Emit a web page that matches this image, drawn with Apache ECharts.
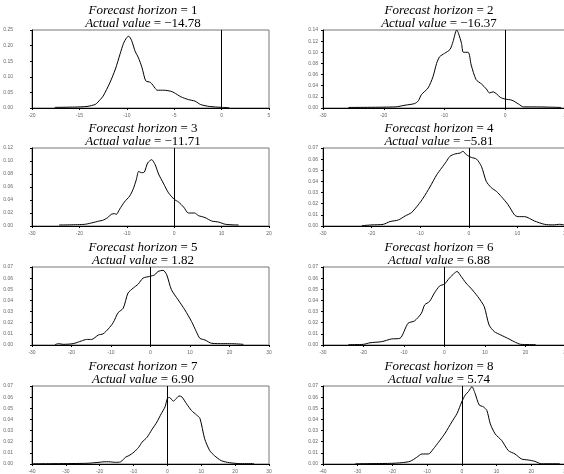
<!DOCTYPE html>
<html lang="en">
<head>
	<meta charset="UTF-8">
	<title>Forecast densities</title>
	<style>
	body, div {
		margin: 0;
		padding: 0;
	}
	#echart {
		width: 564px;
		height: 474px;
		background: #fff;
	}
	</style>
</head>
<body>
	<div id="echart"></div>

	<script src="https://cdn.jsdelivr.net/npm/echarts@6/dist/echarts.min.js"></script>

	<script>
// panel settings
var horizons = [1, 2, 3, 4, 5, 6, 7, 8];
var actualValues = ['\u221214.78', '\u221216.37', '\u221211.71', '\u22125.81', '1.82', '6.88', '6.90', '5.74'];
var xMins = [-20, -30, -30, -30, -30, -30, -40, -40];
var xMaxs = [5, 10, 20, 20, 30, 30, 30, 30];
var xSteps = [5, 10, 10, 10, 10, 10, 10, 10];
var yMaxs = [0.25, 0.14, 0.12, 0.07, 0.07, 0.07, 0.07, 0.07];
var ySteps = [0.05, 0.02, 0.02, 0.01, 0.01, 0.01, 0.01, 0.01];

// densities
var dens1 = [[-17.6,0.002],[-15.5,0.003],[-14.2,0.005],[-13.3,0.012],[-12.8,0.027],[-12.5,0.038],[-11.8,0.08],[-11.2,0.125],[-10.7,0.174],[-10.35,0.207],[-10.0,0.226],[-9.8,0.23],[-9.5,0.217],[-9.1,0.18],[-8.8,0.163],[-8.4,0.13],[-8.0,0.087],[-7.5,0.082],[-7.0,0.063],[-6.8,0.057],[-6.1,0.057],[-5.4,0.054],[-5.0,0.049],[-4.3,0.036],[-3.5,0.027],[-2.8,0.022],[-2.2,0.011],[-1.3,0.005],[0,0.002],[0.8,0.001]];
var dens2 = [[-25.8,0.001],[-18.1,0.002],[-16.5,0.005],[-14.9,0.008],[-14.3,0.013],[-13.8,0.024],[-12.7,0.036],[-11.9,0.056],[-11.3,0.08],[-10.8,0.092],[-10,0.098],[-9.1,0.105],[-8.6,0.119],[-8.0,0.14],[-7.7,0.134],[-7.2,0.116],[-6.9,0.1],[-6.1,0.1],[-5.6,0.077],[-4.8,0.051],[-3.9,0.043],[-3.1,0.034],[-2.6,0.027],[-2.0,0.029],[-1.4,0.025],[-0.8,0.019],[0,0.016],[1.1,0.014],[2.2,0.007],[3.0,0.002],[4.9,0.002],[9.2,0.001]];
var dens3 = [[-24.3,0.0015],[-19.0,0.0025],[-17.5,0.0046],[-15.8,0.0077],[-15.1,0.0087],[-14.0,0.013],[-13.3,0.018],[-12.6,0.019],[-12.2,0.018],[-11.5,0.026],[-10.5,0.037],[-9.4,0.046],[-8.7,0.056],[-8.0,0.071],[-7.5,0.084],[-6.9,0.082],[-6.3,0.083],[-5.6,0.097],[-4.75,0.102],[-4.0,0.094],[-3.3,0.08],[-2.3,0.066],[-1.2,0.051],[0,0.041],[0.9,0.037],[2.0,0.029],[3.0,0.02],[4.3,0.02],[5.1,0.016],[6.5,0.013],[7.9,0.0077],[9.4,0.006],[10.8,0.0026],[13.6,0.0015]];
var dens4 = [[-22,0.0003],[-19.9,0.001],[-17.6,0.0015],[-16.2,0.004],[-14.5,0.0054],[-13.1,0.009],[-11.8,0.012],[-10.4,0.019],[-9.4,0.025],[-8.0,0.035],[-6.6,0.046],[-5.6,0.052],[-4.6,0.058],[-3.9,0.0625],[-2.9,0.0646],[-1.8,0.0655],[-1.2,0.067],[-0.5,0.064],[0.5,0.0616],[1.6,0.06],[2.6,0.0535],[3.6,0.04],[4.6,0.0345],[5.7,0.031],[6.7,0.0264],[8.1,0.019],[9.4,0.01],[10.1,0.0084],[11.5,0.0084],[13.5,0.0045],[15.6,0.0015],[17.3,0.001],[18.7,0.0015],[19.6,0.001]];
var dens5 = [[-24.2,0.0003],[-23.3,0.0012],[-22.1,0.0006],[-19.6,0.0012],[-17.5,0.0036],[-16.2,0.005],[-14.9,0.005],[-13.2,0.009],[-12.0,0.01],[-10.7,0.0144],[-9.45,0.02],[-8.2,0.029],[-6.9,0.033],[-5.7,0.0466],[-4.4,0.051],[-3.1,0.0547],[-1.9,0.06],[-0.2,0.0616],[1.1,0.063],[1.9,0.066],[3.2,0.067],[4.1,0.063],[5.3,0.0496],[7.0,0.0405],[8.7,0.0315],[10.4,0.021],[11.6,0.012],[12.5,0.006],[13.8,0.0045],[15.5,0.0015],[18.4,0.0012],[20.5,0.0012],[23.5,0.0006]];
var dens6 = [[-23.7,0.0003],[-20.0,0.0006],[-18.4,0.002],[-15.5,0.003],[-13.1,0.0054],[-11.0,0.006],[-9.0,0.0195],[-7.4,0.0216],[-5.7,0.0285],[-4.9,0.036],[-3.7,0.039],[-2.5,0.0466],[-1.2,0.053],[0,0.0547],[1.2,0.06],[2.5,0.0646],[3.1,0.066],[4.1,0.0616],[5.3,0.0556],[6.5,0.051],[8.2,0.0435],[9.8,0.0345],[11.0,0.018],[12.3,0.012],[13.9,0.009],[15.6,0.006],[17.2,0.003],[18.8,0.0006],[22.5,0.0003]];
var dens7 = [[-40,0.0002],[-24,0.0006],[-20.2,0.0015],[-18.7,0.002],[-17.3,0.002],[-15.3,0.0015],[-13.8,0.002],[-12.4,0.006],[-11.4,0.0075],[-9.9,0.0106],[-8.5,0.015],[-7.5,0.0196],[-6.0,0.024],[-4.6,0.0308],[-3.1,0.0377],[-1.85,0.045],[-0.7,0.0513],[0,0.059],[0.6,0.0597],[1.75,0.0564],[2.4,0.058],[3.4,0.061],[4.2,0.0604],[5.65,0.054],[7.1,0.048],[8.6,0.044],[9.6,0.041],[11.0,0.0226],[12.5,0.012],[13.9,0.0075],[15.9,0.003],[18.3,0.0012],[21.7,0.0003],[25.6,0.0003]];
var dens8 = [[-30.7,0.0002],[-20.2,0.0006],[-17.3,0.0012],[-14.9,0.0024],[-13.0,0.006],[-11.5,0.009],[-9.6,0.009],[-8.2,0.0136],[-6.7,0.0196],[-4.8,0.0278],[-2.9,0.0377],[-1.4,0.0453],[0,0.056],[1.0,0.062],[1.9,0.065],[2.9,0.0694],[3.8,0.0634],[5.0,0.053],[6.2,0.0513],[7.2,0.048],[8.2,0.036],[9.6,0.027],[11.5,0.021],[13.4,0.012],[15.3,0.009],[17.2,0.0045],[19.1,0.0036],[21.0,0.0024],[22.9,0.0002],[28.2,0.0002]];
var densities = [dens1, dens2, dens3, dens4, dens5, dens6, dens7, dens8];

var myEchart = echarts.init(document.getElementById('echart'));

var colLeft = [32, 323];
var colWidth = [237, 243];
var colCenter = [143, 439];
var rowTop = [30, 148, 267, 386];
var plotHeight = 78;

var grids = [], xAxes = [], yAxes = [], series = [], texts = [];
var serifRich = {
	i: { fontFamily: 'Liberation Serif', fontStyle: 'italic', fontSize: 13, color: '#000' },
	n: { fontFamily: 'Liberation Serif', fontSize: 13, color: '#000' }
};

for (var k = 0; k < 8; k++) {
	var col = k % 2, row = Math.floor(k / 2);
	grids.push({
		show: true,
		left: colLeft[col],
		width: colWidth[col],
		top: rowTop[row],
		height: plotHeight,
		outerBoundsMode: 'none',
		containLabel: false,
		borderColor: '#777',
		borderWidth: 1
	});
	xAxes.push({
		type: 'value',
		gridIndex: k,
		min: xMins[k],
		max: xMaxs[k],
		interval: xSteps[k],
		axisLine: { onZero: false, lineStyle: { color: '#000', width: 1 } },
		axisTick: { length: 2, lineStyle: { color: '#000' } },
		axisLabel: { fontSize: 5, color: '#666', margin: 5, fontFamily: 'Liberation Sans' },
		splitLine: { show: false }
	});
	yAxes.push({
		type: 'value',
		gridIndex: k,
		min: 0,
		max: yMaxs[k],
		interval: ySteps[k],
		axisLine: { show: true, onZero: false, lineStyle: { color: '#000', width: 1 } },
		axisTick: { show: true, length: 2, lineStyle: { color: '#000' } },
		axisLabel: {
			fontSize: 5, color: '#666', fontFamily: 'Liberation Sans',
			margin: col === 0 ? 19 : 5,
			formatter: function (v) { return v.toFixed(2); }
		},
		splitLine: { show: false }
	});
	series.push({
		type: 'line',
		xAxisIndex: k,
		yAxisIndex: k,
		data: densities[k],
		showSymbol: false,
		smooth: 0.25,
		lineStyle: { color: '#000', width: 1 },
		markLine: {
			silent: true,
			symbol: 'none',
			label: { show: false },
			lineStyle: { color: '#000', type: 'solid', width: 1 },
			data: [{ xAxis: 0 }]
		}
	});
	texts.push({
		type: 'text',
		x: colCenter[col],
		y: rowTop[row] - 19,
		style: {
			text: '{i|Forecast horizon} {n|= ' + horizons[k] + '}',
			rich: serifRich,
			align: 'center',
			verticalAlign: 'middle',
			fontFamily: 'Liberation Serif',
			fontSize: 13
		}
	});
	texts.push({
		type: 'text',
		x: colCenter[col],
		y: rowTop[row] - 6,
		style: {
			text: '{i|Actual value} {n|= ' + actualValues[k] + '}',
			rich: serifRich,
			align: 'center',
			verticalAlign: 'middle',
			fontFamily: 'Liberation Serif',
			fontSize: 13
		}
	});
}

option = {
	animation: false,
	backgroundColor: '#fff',
	grid: grids,
	xAxis: xAxes,
	yAxis: yAxes,
	series: series,
	graphic: texts
};

		myEchart.setOption(option);
	</script>
</body>
</html>
